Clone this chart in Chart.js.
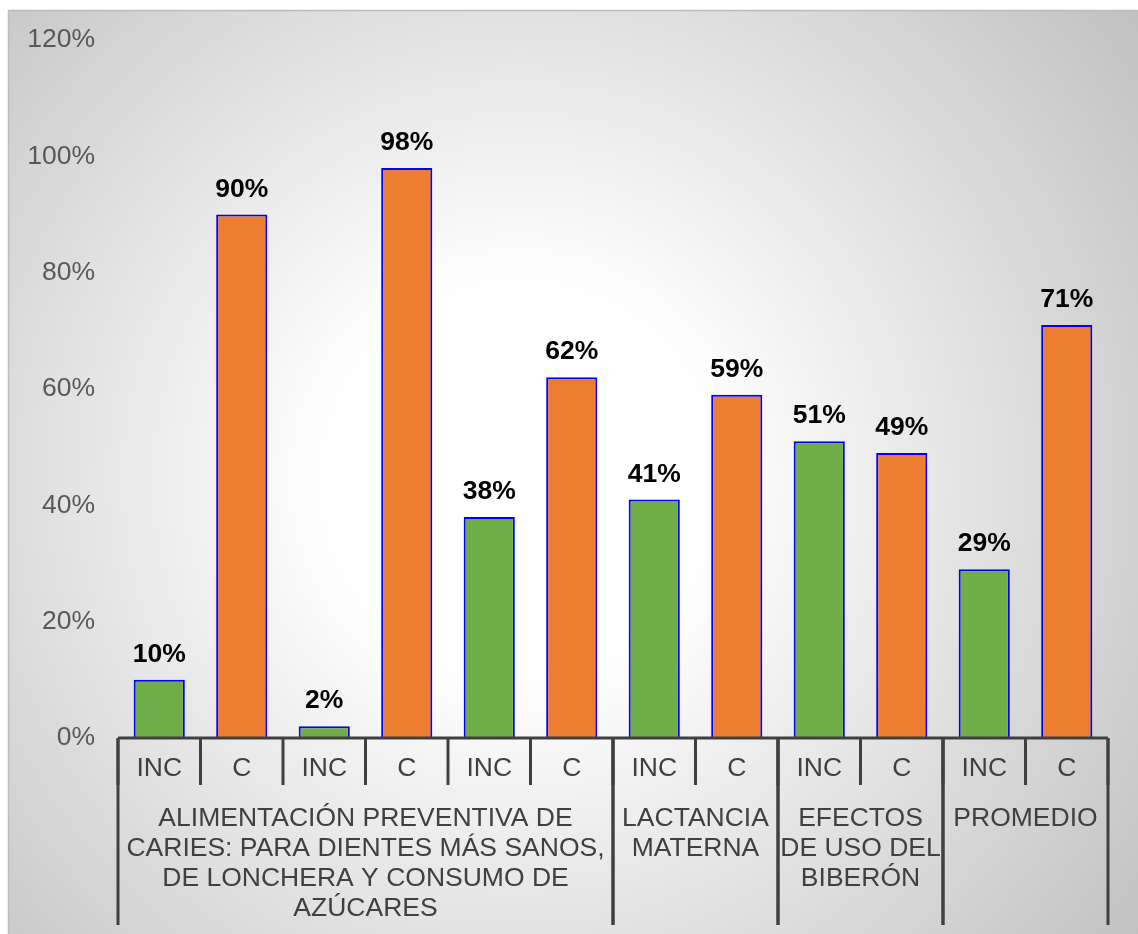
<!DOCTYPE html>
<html>
<head>
<meta charset="utf-8">
<script src="https://cdn.jsdelivr.net/npm/chart.js@4/dist/chart.umd.min.js"></script>
<style>
  html, body { margin: 0; padding: 0; background: #fff; }
  #wrap { width: 1138px; height: 934px; }
</style>
</head>
<body>
<div id="wrap"><canvas id="grafico" width="1138" height="934"></canvas></div>
<script>
// Datos del gráfico
const categorias = ['INC', 'C', 'INC', 'C', 'INC', 'C', 'INC', 'C', 'INC', 'C', 'INC', 'C'];
const valores = [10, 90, 2, 98, 38, 62, 41, 59, 51, 49, 29, 71];
const grupos = [
  ['ALIMENTACIÓN PREVENTIVA DE', 'CARIES: PARA DIENTES MÁS SANOS,', 'DE LONCHERA Y CONSUMO DE', 'AZÚCARES'],
  ['LACTANCIA', 'MATERNA'],
  ['EFECTOS', 'DE USO DEL', 'BIBERÓN'],
  ['PROMEDIO']
];
const tamanoGrupos = [6, 2, 2, 2];

const VERDE = '#70AD47';
const NARANJA = '#ED7D31';
const FUENTE = '"Liberation Sans", Arial, sans-serif';
const colores = categorias.map(c => c === 'INC' ? VERDE : NARANJA);

// Fondo con degradado radial
const fondo = {
  id: 'fondo',
  beforeDraw(chart) {
    const ctx = chart.ctx;
    ctx.save();
    ctx.fillStyle = '#ffffff';
    ctx.fillRect(0, 0, chart.width, chart.height);
    const g = ctx.createRadialGradient(520, 480, 190, 520, 480, 780);
    g.addColorStop(0, '#ffffff');
    g.addColorStop(1, '#c0c0c0');
    ctx.fillStyle = g;
    ctx.fillRect(8, 10, chart.width - 8, chart.height - 10);
    ctx.strokeStyle = '#bdbdbd';
    ctx.lineWidth = 1.5;
    ctx.beginPath();
    ctx.moveTo(8.5, chart.height);
    ctx.lineTo(8.5, 10.5);
    ctx.lineTo(chart.width, 10.5);
    ctx.stroke();
    ctx.restore();
  }
};

// Eje X de dos niveles: INC / C y los grupos
const ejeAgrupado = {
  id: 'ejeAgrupado',
  afterDraw(chart) {
    const ctx = chart.ctx;
    const x = chart.scales.x;
    const base = chart.chartArea.bottom;
    const ancho = x.getPixelForValue(1) - x.getPixelForValue(0);
    const borde = i => x.getPixelForValue(i) - ancho / 2;

    ctx.save();
    ctx.strokeStyle = '#404040';
    ctx.lineWidth = 3;

    // línea del eje
    ctx.beginPath();
    ctx.moveTo(borde(0), base);
    ctx.lineTo(borde(categorias.length), base);
    ctx.stroke();

    // marcas cortas entre categorías
    for (let i = 0; i <= categorias.length; i++) {
      ctx.beginPath();
      ctx.moveTo(borde(i), base);
      ctx.lineTo(borde(i), base + 47);
      ctx.stroke();
    }

    ctx.fillStyle = '#404040';
    ctx.font = '26.5px ' + FUENTE;
    ctx.textAlign = 'center';
    ctx.textBaseline = 'middle';
    categorias.forEach((c, i) => {
      ctx.fillText(c, x.getPixelForValue(i), base + 31);
    });

    // separadores y nombres de grupo
    let inicio = 0;
    tamanoGrupos.forEach((n, g) => {
      const fin = inicio + n;
      [inicio, fin].forEach(k => {
        ctx.beginPath();
        ctx.moveTo(borde(k), base);
        ctx.lineTo(borde(k), base + 187);
        ctx.stroke();
      });
      const centro = (borde(inicio) + borde(fin)) / 2;
      grupos[g].forEach((linea, j) => {
        ctx.fillText(linea, centro, base + 81 + j * 30);
      });
      inicio = fin;
    });
    ctx.restore();
  }
};

// Etiquetas de valor sobre cada barra
const etiquetas = {
  id: 'etiquetas',
  afterDatasetsDraw(chart) {
    const ctx = chart.ctx;
    const meta = chart.getDatasetMeta(0);
    ctx.save();
    ctx.fillStyle = '#000000';
    ctx.font = 'bold 26.5px ' + FUENTE;
    ctx.textAlign = 'center';
    ctx.textBaseline = 'alphabetic';
    meta.data.forEach((barra, i) => {
      ctx.fillText(valores[i] + '%', barra.x, barra.y - 18);
    });
    ctx.restore();
  }
};

new Chart(document.getElementById('grafico'), {
  type: 'bar',
  data: {
    labels: categorias,
    datasets: [{
      data: valores,
      backgroundColor: colores,
      borderColor: '#0000FF',
      borderWidth: 2,
      barPercentage: 0.62,
      categoryPercentage: 1
    }]
  },
  options: {
    responsive: false,
    animation: false,
    devicePixelRatio: 1,
    layout: { padding: { left: 0, top: 40, right: 30, bottom: 196 } },
    plugins: {
      legend: { display: false },
      tooltip: { enabled: false }
    },
    scales: {
      x: {
        display: true,
        grid: { display: false },
        border: { display: false },
        ticks: { display: false },
        afterFit(scale) { scale.height = 0; }
      },
      y: {
        min: 0,
        max: 120,
        grid: { display: false, drawTicks: false },
        border: { display: false },
        ticks: {
          stepSize: 20,
          padding: 23,
          color: '#595959',
          font: { family: FUENTE, size: 26.5 },
          callback: v => v + '%'
        },
        afterFit(scale) { scale.width = 118; }
      }
    }
  },
  plugins: [fondo, ejeAgrupado, etiquetas]
});
</script>
</body>
</html>
